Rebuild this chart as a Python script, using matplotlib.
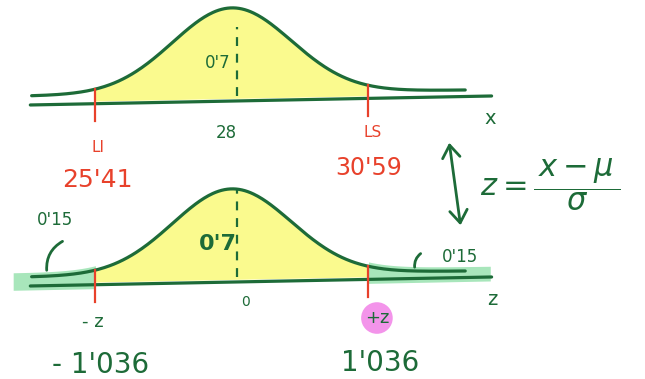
import numpy as np
import matplotlib.pyplot as plt

# Datos del problema: X ~ N(28, 2.5), intervalo central con probabilidad 0'7
mu = 28
sigma = 2.5
LI = 25.41
LS = 30.59
z_lim = 1.036
p_centro = "0'7"
p_cola = "0'15"

VERDE = '#1d6b38'
ROJO = '#e8412b'
AMARILLO = '#fafa8e'
VERDE_CLARO = '#a8e6bb'
ROSA = '#f394ea'

sd_dibujo = 0.45          # ancho de la campana dibujada (en unidades z)
z_ini, z_fin = -1.52, 1.77
eje_ini, eje_fin = -1.53, 1.97


def campana(z):
    # campana normal con una ligera inclinación, como en el dibujo a mano
    return 0.97 * np.exp(-0.5 * (z / sd_dibujo) ** 2) + 0.0207 * (z - z_ini)


def eje(z):
    return -0.102 + 0.0292 * (z - eje_ini)


def dibujar_campana(ax, a_x, y_guion, colas=False):
    zz = np.linspace(z_ini, z_fin, 300)
    ax.plot(a_x(zz), campana(zz), color=VERDE, lw=2.3, zorder=4, solid_capstyle='round')
    ze = np.array([eje_ini, eje_fin])
    ax.plot(a_x(ze), eje(ze), color=VERDE, lw=2.3, zorder=4, solid_capstyle='round')

    zf = np.linspace(-z_lim, z_lim, 200)
    ax.fill_between(a_x(zf), eje(zf) + 0.03, campana(zf), color=AMARILLO, lw=0, zorder=1)

    if colas:
        for a, b in [(-1.66, -z_lim), (z_lim, 1.96)]:
            zc = np.linspace(a, b, 100)
            ax.fill_between(a_x(zc), eje(zc) - 0.045, campana(zc) + 0.05,
                            color=VERDE_CLARO, lw=0, zorder=1)

    for zt in (-z_lim, z_lim):
        ax.plot([a_x(zt), a_x(zt)], [campana(zt), eje(zt) - 0.2], color=ROJO, lw=1.6, zorder=5)

    ax.plot([a_x(0.04), a_x(0.04)], [0.0, y_guion], color=VERDE, lw=1.6,
            linestyle=(0, (4, 3.5)), zorder=5)


fig = plt.figure(figsize=(6.45, 3.79), dpi=100)
ax1 = fig.add_axes([0, 1 - 181 / 379, 1, 181 / 379])
ax2 = fig.add_axes([0, 0, 1, 198 / 379])
for ax in (ax1, ax2):
    ax.patch.set_alpha(0)

# ---- curva en x ----
a_x1 = lambda z: mu + sigma * np.asarray(z)
dibujar_campana(ax1, a_x1, 0.78)
ax1.set_xlim(mu + sigma * -1.760, mu + sigma * 3.134)
ax1.set_ylim(-0.966, 1.091)

ax1.text(27.73, 0.375, p_centro, color=VERDE, fontsize=12, ha='center', va='center')
ax1.text(27.9, -0.42, str(mu), color=VERDE, fontsize=12, ha='center', va='center')
ax1.text(32.9, -0.26, 'x', color=VERDE, fontsize=14, ha='center', va='center')
ax1.text(LI + 0.05, -0.58, 'LI', color=ROJO, fontsize=11, ha='center', va='center')
ax1.text(LI + 0.03, -0.955, "25'41", color=ROJO, fontsize=18, ha='center', va='center')
ax1.text(LS + 0.07, -0.41, 'LS', color=ROJO, fontsize=11, ha='center', va='center')
ax1.text(LS, -0.82, "30'59", color=ROJO, fontsize=17, ha='center', va='center')

# ---- curva tipificada en z ----
a_x2 = lambda z: np.asarray(z)
dibujar_campana(ax2, a_x2, 1.0, colas=True)
ax2.set_xlim(-1.760, 3.134)
ax2.set_ylim(-1.159, 1.091)

ax2.text(-0.106, 0.375, p_centro, color=VERDE, fontsize=16, fontweight='bold',
         ha='center', va='center')
ax2.text(-1.343, 0.648, p_cola, color=VERDE, fontsize=12, ha='center', va='center')
ax2.text(1.73, 0.227, p_cola, color=VERDE, fontsize=12, ha='center', va='center')
ax2.annotate('', xy=(-1.267, 0.42), xytext=(-1.404, 0.045),
             arrowprops=dict(arrowstyle='-', color=VERDE, lw=2,
                             connectionstyle='arc3,rad=-0.35'))
ax2.annotate('', xy=(1.449, 0.284), xytext=(1.389, 0.08),
             arrowprops=dict(arrowstyle='-', color=VERDE, lw=2,
                             connectionstyle='arc3,rad=-0.35'))

ax2.text(0.099, -0.284, '0', color=VERDE, fontsize=10, ha='center', va='center')
ax2.text(-1.055, -0.511, '- z', color=VERDE, fontsize=13, ha='center', va='center')
ax2.text(1.10, -0.466, '+z', color=VERDE, fontsize=13, ha='center', va='center',
         bbox=dict(boxstyle='circle,pad=0.2', fc=ROSA, ec='none'))
ax2.text(1.973, -0.26, 'z', color=VERDE, fontsize=14, ha='center', va='center')
ax2.text(-1.0, -1.0, "- 1'036", color=VERDE, fontsize=20, ha='center', va='center')
ax2.text(1.123, -0.977, "1'036", color=VERDE, fontsize=20, ha='center', va='center')

# tipificación
ax2.annotate('', xy=(1.646, 1.557), xytext=(1.737, 0.557), annotation_clip=False,
             arrowprops=dict(arrowstyle='<->,head_length=0.5,head_width=0.35',
                             color=VERDE, lw=2, mutation_scale=18))
ax2.text(1.885, 1.045, r'$z = \dfrac{\,x - \mu\,}{\sigma}$', color=VERDE, fontsize=22,
         ha='left', va='center')

for ax in (ax1, ax2):
    ax.axis('off')

fig.savefig('out.png', dpi=100)
